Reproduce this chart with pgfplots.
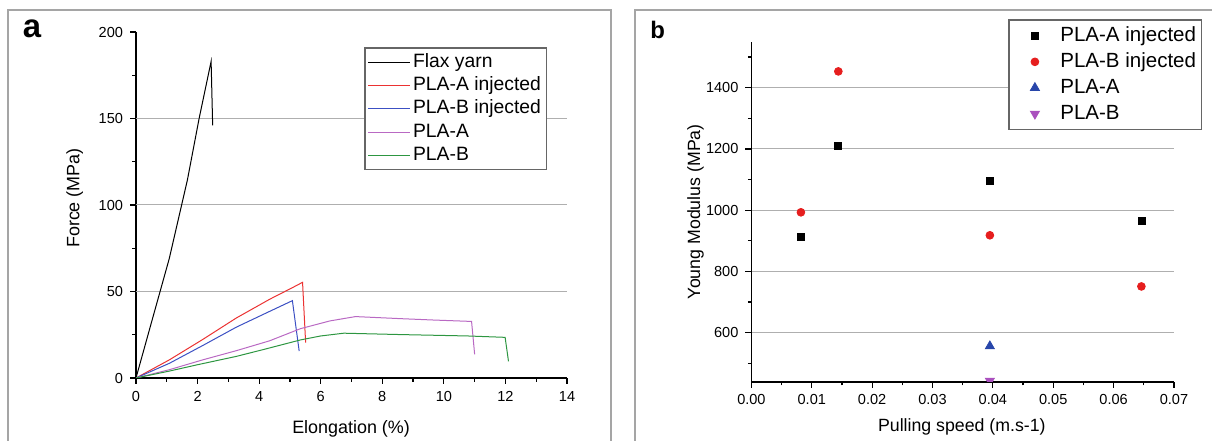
\documentclass[border=0pt]{standalone}
\usepackage{fontspec}
\setmainfont{Liberation Sans}
\usepackage{pgfplots}
\pgfplotsset{compat=1.18}
\definecolor{cred}{RGB}{235,50,50}
\definecolor{cblue}{RGB}{60,80,195}
\definecolor{cpurple}{RGB}{185,105,195}
\definecolor{cgreen}{RGB}{45,150,65}
\definecolor{gridgray}{RGB}{175,175,175}
\definecolor{framegray}{RGB}{165,165,165}
\definecolor{mred}{RGB}{230,30,30}
\definecolor{mblue}{RGB}{40,70,170}
\definecolor{mpurple}{RGB}{170,80,190}
\pgfplotsset{
  mystyle/.style={
    scale only axis,
    axis lines*=left,
    tick align=outside,
    axis line style={line width=0.8bp},
    major tick length=3bp,
    minor tick length=1.8bp,
    every tick/.style={black, line width=0.6bp},
    tick label style={font=\fontsize{7.3}{8}\selectfont},
    label style={font=\fontsize{9}{10}\selectfont},
    /pgf/number format/assume math mode=true,
    /pgf/number format/set thousands separator={},
    grid style={gridgray, line width=0.5bp},
  }
}
\begin{document}
\begin{tikzpicture}
\useasboundingbox (0,0) rectangle (606bp,220.5bp);
\clip (0,0) rectangle (606bp,220.5bp);
\draw[framegray, line width=0.75bp] (4bp,-10bp) -- (4bp,215.5bp) -- (305.6bp,215.5bp) -- (305.6bp,-10bp);
\draw[framegray, line width=0.75bp] (317.6bp,-10bp) -- (317.6bp,215.5bp) -- (620bp,215.5bp);
\node[anchor=base, font=\bfseries\fontsize{16.5}{16.5}\selectfont] at (16bp,201.5bp) {a};
\node[anchor=base, font=\bfseries\fontsize{12}{12}\selectfont] at (328.8bp,201.4bp) {b};

\begin{axis}[mystyle,
  at={(68bp,31.5bp)}, anchor=south west,
  width=215.5bp, height=173bp,
  xmin=0, xmax=14, ymin=0, ymax=200,
  xtick={0,2,4,6,8,10,12,14},
  ytick={0,50,100,150,200},
  minor xtick={1,3,5,7,9,11,13},
  minor ytick={25,75,125,175},
  extra y ticks={50,100,150},
  extra y tick labels={},
  extra y tick style={grid=major, major tick length=0pt},
  xlabel={Elongation (\%)},
  ylabel={Force (MPa)},
  xlabel style={at={(axis description cs:0.499,-0.147)}, anchor=center},
  ylabel style={at={(axis description cs:-0.142,0.52)}, anchor=center},
  legend style={at={(0.531,0.954)}, anchor=north west,
    draw=none, fill=white, name=legA,
    font=\fontsize{9.7}{11}\selectfont,
    inner sep=1.25bp,
    nodes={inner ysep=1bp, inner xsep=1.2bp, text height=7.3bp, text depth=2.3bp}},
  legend cell align=left,
]
\addplot[color=black, line width=0.5bp,
  legend image code/.code={\draw[black, line width=0.45bp] (0bp,0bp) -- (21bp,0bp);}]
  coordinates {(0,0) (0.5,32) (1.08,69) (1.67,114.5) (2.05,150) (2.44,183) (2.49,146)};
\addlegendentry{Flax yarn}
\addplot[color=cred, line width=0.5bp,
  legend image code/.code={\draw[cred, line width=0.45bp] (0bp,0bp) -- (21bp,0bp);}]
  coordinates {(0,0) (1.085,10.5) (2.17,22.3) (3.26,34.7) (4.34,45.5) (5.1,52.4) (5.41,55.3) (5.51,20.4)};
\addlegendentry{PLA-A injected}
\addplot[color=cblue, line width=0.5bp,
  legend image code/.code={\draw[cblue, line width=0.45bp] (0bp,0bp) -- (21bp,0bp);}]
  coordinates {(0,0) (1.085,8.5) (2.17,18.8) (3.26,29.4) (4.34,38.5) (5.08,44.7) (5.3,15.6)};
\addlegendentry{PLA-B injected}
\addplot[color=cpurple, line width=0.5bp,
  legend image code/.code={\draw[cpurple, line width=0.45bp] (0bp,0bp) -- (21bp,0bp);}]
  coordinates {(0,0) (1.085,4.8) (2.17,10.5) (3.26,15.8) (4.34,21.5) (5.34,28.5) (6.3,33) (7.13,35.5) (8.6,34.3) (9.68,33.5) (10.9,32.7) (11.0,13.7)};
\addlegendentry{PLA-A}
\addplot[color=cgreen, line width=0.5bp,
  legend image code/.code={\draw[cgreen, line width=0.45bp] (0bp,0bp) -- (21bp,0bp);}]
  coordinates {(0,0) (1.085,4) (1.98,7.6) (3.26,12.5) (4.15,16.5) (5.34,22) (6.0,24.3) (6.75,25.9) (8.6,25.1) (10.77,24.3) (11.99,23.5) (12.1,9.6)};
\addlegendentry{PLA-B}
\end{axis}
\draw[black!60, line width=0.7bp] (legA.south west) rectangle (legA.north east);

\begin{axis}[mystyle,
  at={(375.7bp,29.65bp)}, anchor=south west,
  width=211.3bp, height=170bp,
  xmin=0, xmax=0.07, ymin=440, ymax=1550,
  xtick={0,0.01,0.02,0.03,0.04,0.05,0.06,0.07},
  minor xtick={0.005,0.015,0.025,0.035,0.045,0.055,0.065},
  ytick={600,800,1000,1200,1400},
  minor ytick={500,700,900,1100,1300,1500},
  ymajorgrids,
  clip marker paths=true,
  scaled x ticks=false,
  xticklabel style={/pgf/number format/.cd, fixed, fixed zerofill, precision=2},
  xlabel={Pulling speed (m.s-1)},
  ylabel={Young Modulus (MPa)},
  label style={font=\fontsize{8.9}{10}\selectfont},
  xlabel style={at={(axis description cs:0.498,-0.132)}, anchor=center},
  ylabel style={at={(axis description cs:-0.132,0.5)}, anchor=center},
  legend style={at={(0.6096,1.064)}, anchor=north west,
    draw=none, fill=white, name=legB,
    font=\fontsize{10.3}{12}\selectfont,
    inner sep=1.25bp,
    nodes={inner ysep=1.2bp, inner xsep=1.2bp, text height=8bp, text depth=2.6bp}},
  legend cell align=left,
  legend image code/.code={\path[draw=none, fill=none] (0bp,-1bp) rectangle (23bp,1bp); \draw[mark repeat=2, mark phase=2, #1] plot coordinates {(0bp,0bp) (11.5bp,0bp) (23bp,0bp)};},
]
\addplot[only marks, mark=square*, mark size=1.75bp, color=black] coordinates {(0.0082,913) (0.0144,1209) (0.0395,1097) (0.0646,966)};
\addlegendentry{PLA-A injected}
\addplot[only marks, mark=*, mark size=1.95bp, color=mred] coordinates {(0.0082,993) (0.0144,1453) (0.0395,918) (0.0646,751)};
\addlegendentry{PLA-B injected}
\addplot[only marks, mark=triangle*, mark size=2.6bp, color=mblue] coordinates {(0.0395,556)};
\addlegendentry{PLA-A}
\addplot[only marks, mark=triangle*, mark size=2.6bp, color=mpurple, mark options={rotate=180}] coordinates {(0.0395,443)};
\addlegendentry{PLA-B}
\end{axis}
\draw[black!60, line width=0.7bp] (legB.south west) rectangle (legB.north east);
\end{tikzpicture}
\end{document}
